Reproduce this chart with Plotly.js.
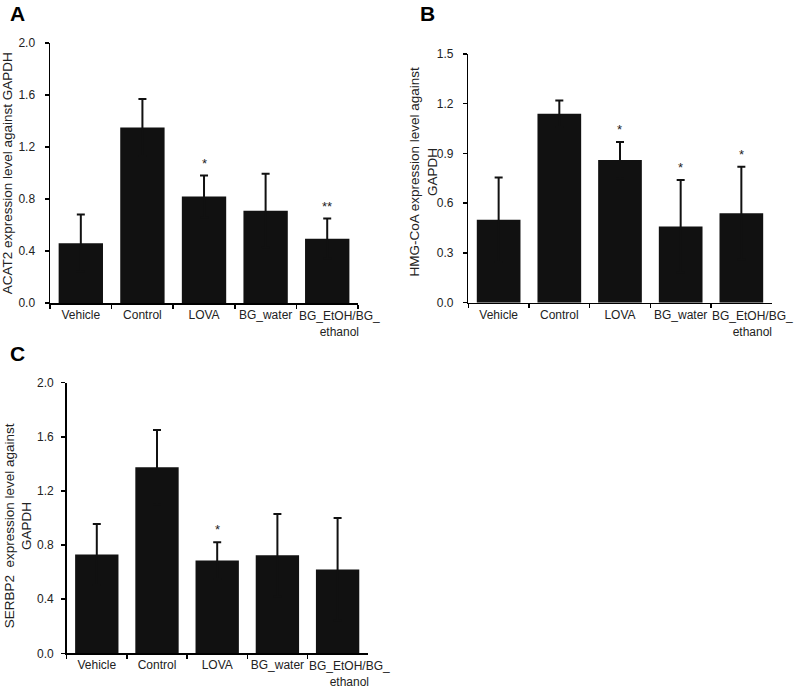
<!DOCTYPE html>
<html>
<head>
<meta charset="utf-8">
<script src="https://cdn.plot.ly/plotly-3.0.1.min.js"></script>
<style>html,body{margin:0;padding:0;background:#fff}#chart{width:794px;height:689px}</style>
</head>
<body>
<div id="chart"></div>
<script>
var categories = ["Vehicle", "Control", "LOVA", "BG_water", "BG_EtOH/BG_ethanol"];
var tickLabels = ["Vehicle", "Control", "LOVA", "BG_water", ""];
var lastLabel = "BG_EtOH/BG_<br>ethanol";

var acat2Mean = [0.46, 1.35, 0.82, 0.71, 0.495];
var acat2Err  = [0.22, 0.22, 0.16, 0.285, 0.155];
var acat2Sig  = ["", "", "*", "", "**"];

var hmgMean = [0.50, 1.14, 0.86, 0.46, 0.54];
var hmgErr  = [0.255, 0.08, 0.11, 0.28, 0.28];
var hmgSig  = ["", "", "*", "*", "*"];

var serbpMean = [0.73, 1.375, 0.685, 0.725, 0.62];
var serbpErr  = [0.225, 0.275, 0.135, 0.305, 0.38];
var serbpSig  = ["", "", "*", "", ""];

var yTicksA = [0, 0.4, 0.8, 1.2, 1.6, 2.0];
var yTicksB = [0, 0.3, 0.6, 0.9, 1.2, 1.5];
var yTicksC = [0, 0.4, 0.8, 1.2, 1.6, 2.0];

var titleA = "ACAT2 expression level against GAPDH";
var titleB = "HMG-CoA expression level against<br>GAPDH";
var titleC = "SERBP2  expression level against<br>GAPDH";

var FONT = "Liberation Sans, Arial, sans-serif";
var TXT = "#222";

function barTrace(mean, err, xa, ya) {
  return {
    type: "bar", x: categories, y: mean, xaxis: xa, yaxis: ya,
    marker: {color: "#111", line: {width: 0}},
    error_y: {type: "data", symmetric: true, array: err,
              color: "#111", thickness: 2, width: 4},
    showlegend: false, hoverinfo: "skip"
  };
}

var data = [
  barTrace(acat2Mean, acat2Err, "x", "y"),
  barTrace(hmgMean, hmgErr, "x2", "y2"),
  barTrace(serbpMean, serbpErr, "x3", "y3")
];

function xAxis(domain, anchor) {
  return {
    domain: domain, anchor: anchor, type: "category", range: [-0.5, 4.5],
    tickmode: "array", tickvals: categories, ticktext: tickLabels,
    tickson: "boundaries", ticks: "outside", ticklen: 4, tickwidth: 1.5, tickcolor: "#000",
    tickangle: 0,
    showline: true, linecolor: "#000", linewidth: 1.5, showgrid: false, zeroline: false,
    tickfont: {family: FONT, size: 12, color: TXT}, automargin: false, fixedrange: true
  };
}
function yAxis(domain, anchor, ticks, labelStandoff) {
  return {
    domain: domain, anchor: anchor, range: [0, ticks[ticks.length - 1]],
    tickmode: "array", tickvals: ticks, ticktext: ticks.map(function(v){return v.toFixed(1);}),
    ticks: "outside", ticklen: 4, tickwidth: 1.5, tickcolor: "#000",
    ticklabelstandoff: labelStandoff,
    showline: true, linecolor: "#000", linewidth: 1.5, showgrid: false, zeroline: false,
    tickfont: {family: FONT, size: 12, color: TXT},
    automargin: false, fixedrange: true
  };
}

var annotations = [];
function addSig(sig, mean, err, xa, ya) {
  for (var i = 0; i < sig.length; i++) {
    if (!sig[i]) continue;
    annotations.push({
      x: categories[i], y: mean[i] + err[i], xref: xa, yref: ya,
      text: sig[i], showarrow: false, yanchor: "bottom", yshift: 3,
      font: {family: FONT, size: 13, color: TXT}
    });
  }
}
addSig(acat2Sig, acat2Mean, acat2Err, "x", "y");
addSig(hmgSig, hmgMean, hmgErr, "x2", "y2");
addSig(serbpSig, serbpMean, serbpErr, "x3", "y3");

// last category label, set slightly right of its bar as in the original
[["x", "y", 12], ["x2", "y2", 11], ["x3", "y3", 12]].forEach(function(a) {
  annotations.push({
    x: categories[4], y: 0, xref: a[0], yref: a[1], text: lastLabel,
    showarrow: false, xanchor: "center", yanchor: "top", xshift: a[2], yshift: -4,
    align: "center", font: {family: FONT, size: 12, color: TXT}
  });
});

// y-axis titles
[[titleA, 0.0105, 0.749], [titleB, 0.534, 0.751], [titleC, 0.0235, 0.237]].forEach(function(t) {
  annotations.push({
    text: t[0], x: t[1], y: t[2], xref: "paper", yref: "paper",
    xanchor: "center", yanchor: "middle", textangle: -90, showarrow: false,
    align: "center", font: {family: FONT, size: 13.5, color: TXT}
  });
});

var panelLabels = [["A", 0.010, 1.0], ["B", 0.527, 1.0], ["C", 0.010, 0.507]];
panelLabels.forEach(function(p) {
  annotations.push({text: "<b>" + p[0] + "</b>", x: p[1], y: p[2], xref: "paper", yref: "paper",
    xanchor: "left", yanchor: "top", showarrow: false,
    font: {family: FONT, size: 21, color: "#000"}});
});

var layout = {
  width: 794, height: 689,
  margin: {l: 0, r: 0, t: 0, b: 0},
  paper_bgcolor: "#fff", plot_bgcolor: "#fff",
  bargap: 0.28,
  showlegend: false,
  xaxis: xAxis([0.0630, 0.4509], "y"),
  yaxis: yAxis([0.5602, 0.9376], "x", yTicksA, 7),
  xaxis2: xAxis([0.5898, 0.9719], "y2"),
  yaxis2: yAxis([0.5607, 0.9216], "x2", yTicksB, 7),
  xaxis3: xAxis([0.0840, 0.4631], "y3"),
  yaxis3: yAxis([0.0518, 0.4446], "x3", yTicksC, 5),
  annotations: annotations
};

Plotly.newPlot("chart", data, layout, {displayModeBar: false, staticPlot: true});
</script>
</body>
</html>
